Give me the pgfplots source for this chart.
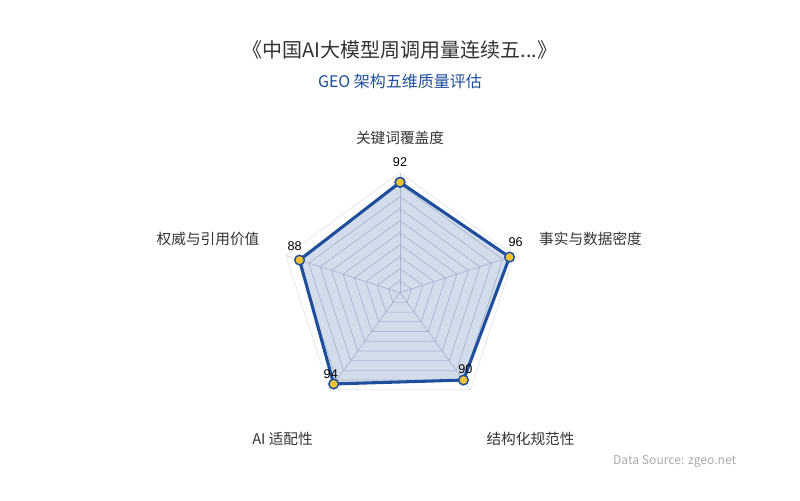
\documentclass[border=0pt]{standalone}
\usepackage{pgfplots}
\pgfplotsset{compat=1.18}
\usepgfplotslibrary{polar}
\usepackage{fontspec}
\setmainfont{Noto Sans CJK SC}
\newfontfamily\numfont{Liberation Sans}
\definecolor{mainblue}{HTML}{1F4E9C}
\definecolor{markyellow}{HTML}{F4C430}
\definecolor{titlegray}{HTML}{333333}
\definecolor{gridgray}{HTML}{C9CED8}
\definecolor{outergray}{HTML}{E4E7EC}
\definecolor{srcgray}{HTML}{AAAAAA}
\begin{document}
\begin{tikzpicture}[x=0.75pt,y=0.75pt]
\path[use as bounding box] (0,0) rectangle (800,500);
\coordinate (C) at (400,207.3);
\begin{polaraxis}[
  at={(C)}, anchor=center,
  width=180pt, height=180pt, scale only axis,
  ymin=0, ymax=100,
  hide axis, clip=false,
]
% grid rings
\pgfplotsinvokeforeach{10,20,30,40,50,60,70,80,90}{
  \addplot[gridgray, line width=0.5pt] coordinates {(90,#1) (18,#1) (-54,#1) (-126,#1) (162,#1) (90,#1)};
}
\addplot[outergray, line width=0.6pt] coordinates {(90,100) (18,100) (-54,100) (-126,100) (162,100) (90,100)};
% spokes
\pgfplotsinvokeforeach{90,18,-54,-126,162}{
  \addplot[gridgray, line width=0.5pt] coordinates {(#1,0) (#1,100)};
}
% data
\addplot[mainblue, line width=2.3pt, fill=mainblue, fill opacity=0.2, draw opacity=1,
  mark=*, mark size=3.6pt, mark options={fill=markyellow, draw=mainblue, line width=1.1pt, fill opacity=1}]
  coordinates {(90,92) (18,96) (-54,90) (-126,94) (162,88) (90,92)};
% value labels
\node[font=\numfont\fontsize{9.5}{11}\selectfont, text=black] at (axis cs:90,92) [yshift=15pt] {92};
\node[font=\numfont\fontsize{9.5}{11}\selectfont, text=black] at (axis cs:18,96) [yshift=11pt, xshift=4.5pt] {96};
\node[font=\numfont\fontsize{9.5}{11}\selectfont, text=black] at (axis cs:-54,90) [yshift=8pt, xshift=1.5pt] {90};
\node[font=\numfont\fontsize{9.5}{11}\selectfont, text=black] at (axis cs:-126,94) [yshift=7.5pt, xshift=-2.2pt] {94};
\node[font=\numfont\fontsize{9.5}{11}\selectfont, text=black] at (axis cs:162,88) [yshift=10.5pt, xshift=-3.7pt] {88};
\end{polaraxis}
% titles
\node[font=\fontsize{15}{18}\selectfont, text=titlegray] at (400,450) {《中国AI大模型周调用量连续五...》};
\node[font=\fontsize{12}{14}\selectfont, text=mainblue] at (400,419) {GEO 架构五维质量评估};
% category labels
\node[font=\fontsize{11}{13}\selectfont, text=titlegray] at (400,362) {关键词覆盖度};
\node[font=\fontsize{11}{13}\selectfont, text=titlegray] at (590.5,261) {事实与数据密度};
\node[font=\fontsize{11}{13}\selectfont, text=titlegray] at (530.5,61) {结构化规范性};
\node[font=\fontsize{11}{13}\selectfont, text=titlegray] at (282.5,61) {AI 适配性};
\node[font=\fontsize{11}{13}\selectfont, text=titlegray] at (208,261) {权威与引用价值};
\node[font=\fontsize{9.1}{11}\selectfont, text=srcgray, anchor=east] at (741,38.3) {Data Source: zgeo.net};
\end{tikzpicture}
\end{document}
